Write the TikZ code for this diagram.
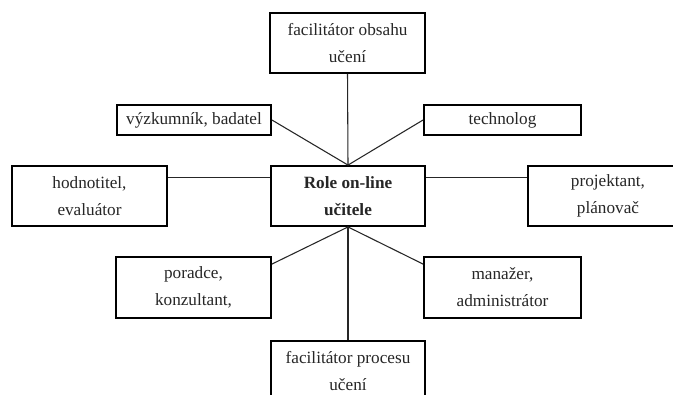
\documentclass[tikz,border=0pt]{standalone}
\usepackage{fontspec}
\setmainfont{Liberation Serif}
\usepackage{tikz}
\usepackage{xcolor}

\begin{document}
\begin{tikzpicture}
    \tikzset{
        rolebox/.style={draw=black,line width=1.4pt,align=center,inner sep=0pt,
            minimum width=115.5pt,minimum height=45pt,text=black!85,
            font=\fontsize{12.9}{20.25}\selectfont},
        link/.style={line width=0.8pt,black!85},
        x={(0.75pt,0pt)},y={(0pt,-0.75pt)}
    }
    \fill[white] (0,0) rectangle (673,394);
    \useasboundingbox (0,0) rectangle (673,394);
    % centre
    \node[rolebox] (role) at (348,196) {\textbf{Role on-line}\\\textbf{učitele}};
    % roles
    \node[rolebox,minimum width=116.25pt] (obsah) at (347.5,43) {facilitátor obsahu\\učení};
    \node[rolebox,minimum height=22.5pt] (badatel) at (194,120) {výzkumník, badatel};
    \node[rolebox,minimum width=117.75pt,minimum height=22.5pt] (technolog) at (502.5,120) {technolog};
    \node[rolebox,minimum width=116.25pt] (hodnotitel) at (89.5,196) {hodnotitel,\\evaluátor};
    \node[rolebox,minimum width=120pt] (projektant) at (608,196) {projektant,\\plánovač};
    \node[rolebox,minimum width=116.25pt,minimum height=45.75pt] (poradce) at (193.5,287.5) {poradce,\\konzultant,};
    \node[rolebox,minimum width=117.75pt,minimum height=45.75pt] (manazer) at (502.5,287.5) {manažer,\\administrátor};
    \node[rolebox] (proces) at (348,371) {facilitátor procesu\\učení};
    % links
    \draw[link] (role.north) -- (obsah.south);
    \draw[link] (role.north) -- (badatel.east);
    \draw[link] (role.north) -- (technolog.west);
    \draw[link] ([yshift=-9pt]hodnotitel.north east) -- ([yshift=-9pt]role.north west);
    \draw[link] ([yshift=-9pt]role.north east) -- ([yshift=-9pt]projektant.north west);
    \draw[link] (role.south) -- ([yshift=-6pt]poradce.north east);
    \draw[link] (role.south) -- ([yshift=-6pt]manazer.north west);
    \draw[link] (role.south) -- (proces.north);
\end{tikzpicture}
\end{document}
